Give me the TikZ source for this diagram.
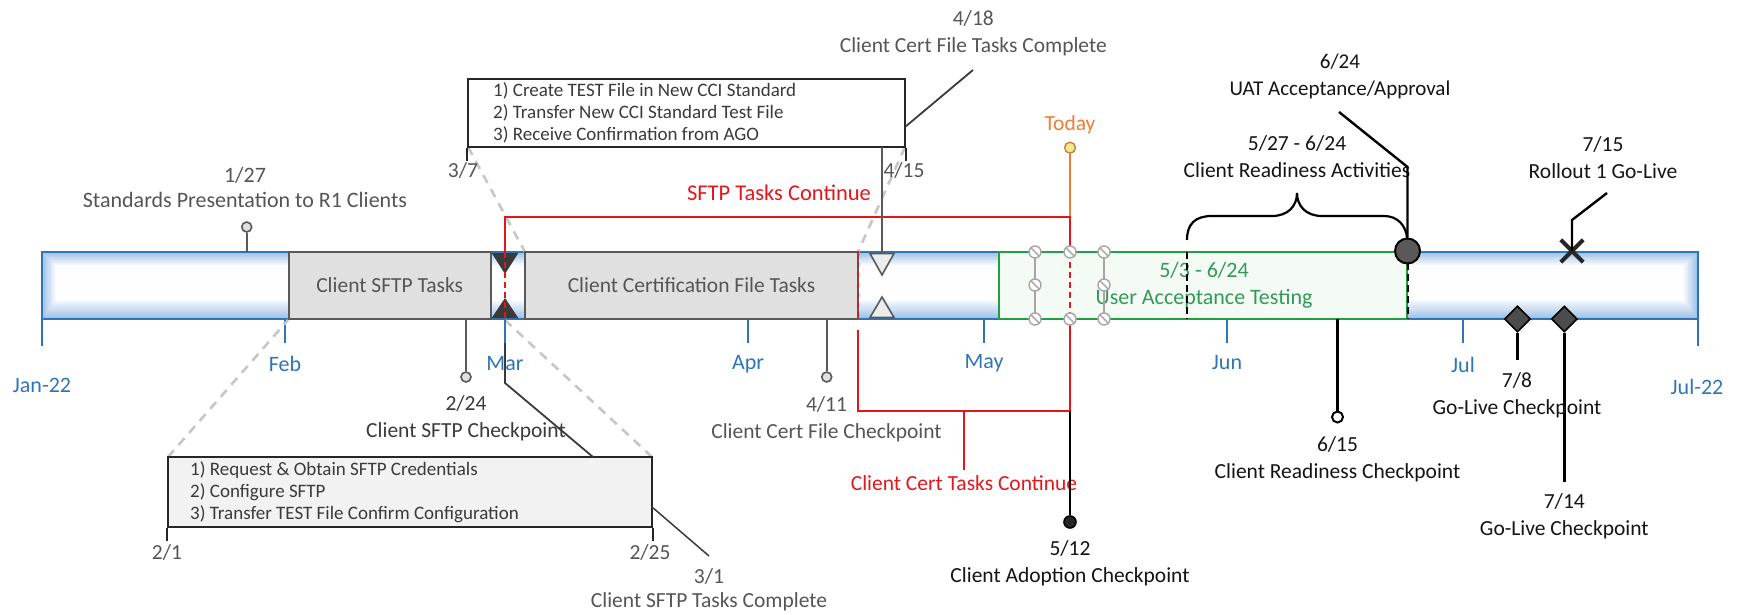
\documentclass[tikz,border=0pt]{standalone}
\usepackage{fontspec}
\setmainfont{Carlito}
\usetikzlibrary{calc,shapes.geometric}

\definecolor{axisblue}{HTML}{2E75B6}
\definecolor{barshade}{HTML}{9CBFE6}
\definecolor{taskfill}{HTML}{E0E0E0}
\definecolor{taskedge}{HTML}{595959}
\definecolor{softtext}{HTML}{555555}
\definecolor{midtext}{HTML}{3A3A3A}
\definecolor{inktext}{HTML}{141414}
\definecolor{uatedge}{HTML}{1FA045}
\definecolor{uatfill}{HTML}{F4FBF4}
\definecolor{uattext}{HTML}{33995A}
\definecolor{contred}{HTML}{E3161B}
\definecolor{todayorange}{HTML}{ED7D31}
\definecolor{todayfill}{HTML}{F2E98A}
\definecolor{zoomgrey}{HTML}{C6C6C6}
\definecolor{handlegrey}{HTML}{A6A6A6}

\begin{document}
\begin{tikzpicture}[x=1pt,y=-1pt,
  lbl/.style={font=\fontsize{21.5}{27}\selectfont, align=center, inner sep=0pt},
  month/.style={lbl, font=\fontsize{22}{26}\selectfont, text=axisblue},
  tickline/.style={draw=axisblue, line width=2.4pt},
  taskbox/.style={draw=taskedge, fill=taskfill, line width=2.2pt, inner sep=0pt,
    minimum height=67pt, font=\fontsize{21.5}{25}\selectfont, text=softtext},
  listbox/.style={draw=black!85, line width=2.2pt, inner sep=0pt},
  listtext/.style={font=\fontsize{19}{21.7}\selectfont, text=midtext, align=left, inner sep=0pt},
  stem/.style={draw=taskedge, line width=2pt},
  inkstem/.style={draw=black, line width=2.4pt},
  pin/.style={circle, draw=taskedge, fill=taskfill, line width=1.6pt, minimum size=10pt, inner sep=0pt},
  zoomline/.style={draw=zoomgrey, line width=2.6pt, dash pattern=on 9pt off 7pt},
  contline/.style={draw=contred, line width=2pt},
  contdash/.style={draw=contred, line width=2pt, dash pattern=on 6pt off 4pt},
  leader/.style={draw=midtext, line width=1.8pt},
  handle/.style={circle, draw=handlegrey, fill=white, line width=1.4pt, minimum size=12pt, inner sep=0pt,
    path picture={\draw[handlegrey, line width=1.4pt]
      (path picture bounding box.north west) -- (path picture bounding box.south east);}},
  gonode/.style={diamond, draw=black, fill=black!70, line width=1.6pt, minimum width=26pt,
    minimum height=26pt, inner sep=0pt},
]
\useasboundingbox (0,0) rectangle (1745,615);

% ---------- timeline bar with soft inner shading ----------
\coordinate (barNW) at (41.7,252);
\coordinate (barSE) at (1698,319);
\foreach \i in {0,...,18} {
  \pgfmathtruncatemacro\mix{100-5.5*\i}
  \fill[barshade!\mix!white] ($(barNW)+(\i*0.8,\i*0.75)$) rectangle ($(barSE)+(-\i*0.8,-\i*1.05)$);
}
\draw[axisblue, line width=2.4pt] (barNW) rectangle (barSE);

% ---------- month ticks and labels ----------
\coordinate (tJan) at (41.7,319);  \coordinate (tJanE) at (41.7,346);
\coordinate (tFeb) at (285,319);   \coordinate (tFebE) at (285,343);
\coordinate (tMar) at (505,319);   \coordinate (tMarE) at (505,343);
\coordinate (tApr) at (748,319);   \coordinate (tAprE) at (748,343);
\coordinate (tMay) at (984,319);   \coordinate (tMayE) at (984,343);
\coordinate (tJun) at (1226.7,319);\coordinate (tJunE) at (1226.7,343);
\coordinate (tJul) at (1462.7,319);\coordinate (tJulE) at (1462.7,343);
\coordinate (tEnd) at (1698,319);  \coordinate (tEndE) at (1698,346);
\foreach \a in {Jan,Feb,Apr,May,Jun,Jul,End} \draw[tickline] (t\a) -- (t\a E);

\node[month] (mJan) at (42,385) {Jan-22};
\node[month] (mFeb) at (285,364) {Feb};
\node[month] (mMar) at (505,364) {Mar};
\node[month] (mApr) at (748,364) {Apr};
\node[month] (mMay) at (984,363) {May};
\node[month] (mJun) at (1227,363) {Jun};
\node[month] (mJul) at (1463,365) {Jul};
\node[month] (mEnd) at (1697,387) {Jul-22};

% ---------- dashed zoom guides ----------
\coordinate (zA) at (468,147);  \coordinate (zAe) at (525,252);
\coordinate (zB) at (905,147);  \coordinate (zBe) at (858,252);
\coordinate (zC) at (168,457);  \coordinate (zCe) at (288,320);
\coordinate (zD) at (652,457);  \coordinate (zDe) at (505,320);
\draw[zoomline] (zA) -- (zAe);
\draw[zoomline] (zB) -- (zBe);
\draw[zoomline] (zC) -- (zCe);
\draw[zoomline] (zD) -- (zDe);

% ---------- task blocks on the bar ----------
\node[taskbox, minimum width=202pt] (sftp) at (389.7,285.5) {Client SFTP Tasks};
\node[taskbox, minimum width=333pt] (cert) at (691.5,285.5) {Client Certification File Tasks};

% handover markers between the blocks
\fill[midtext] (491.7,253) -- (518.3,253) -- (505,274) -- cycle;
\fill[midtext] (491.7,318) -- (518.3,318) -- (505,298) -- cycle;
\draw[taskedge, fill=taskfill!60!white, line width=1.6pt] (870,253.5) -- (894,253.5) -- (882,275) -- cycle;
\draw[taskedge, fill=taskfill!60!white, line width=1.6pt] (870,317.5) -- (894,317.5) -- (882,297) -- cycle;

% ---------- user acceptance testing window ----------
\node[draw=uatedge, fill=uatfill, line width=2.2pt, minimum width=408pt, minimum height=67pt, inner sep=0pt]
  (uat) at (1203,285.5) {};
\node[lbl, font=\fontsize{22}{27}\selectfont, text=uattext] (uattxt) at (1204,285) {5/3 - 6/24\\User Acceptance Testing};
\coordinate (crTop) at (1187,252); \coordinate (crBot) at (1187,319);
\draw[black, line width=2pt, dash pattern=on 7pt off 4pt] (crTop) -- (crBot);
\coordinate (uatTop) at (1407.5,252); \coordinate (uatBot) at (1407.5,319);
\draw[black, line width=2pt, dash pattern=on 7pt off 4pt] (uatTop) -- (uatBot);

% selection handles
\coordinate (hA1) at (1035,252); \coordinate (hA3) at (1035,319);
\coordinate (hC1) at (1104,252); \coordinate (hC3) at (1104,319);
\draw[handlegrey, line width=1.4pt] (hA1) -- (hA3);
\draw[handlegrey, line width=1.4pt] (hC1) -- (hC3);

% ---------- "continue" brackets and today line ----------
\coordinate (sfL) at (505,217); \coordinate (sfR) at (1070,217);
\coordinate (sfLb) at (505,252); \coordinate (sfRb) at (1070,252);
\coordinate (tdBot) at (1070,319);
\coordinate (ccL) at (858,330); \coordinate (ccLb) at (858,411);
\coordinate (ccR) at (1070,411); \coordinate (ccM) at (964,411); \coordinate (ccMe) at (964,470);
\coordinate (ccTop) at (858,252); \coordinate (ccBot) at (858,319);

\node[circle, draw=todayorange!60!gray, fill=todayfill, minimum size=11pt, line width=1.4pt, inner sep=0pt]
  (todaypin) at (1070,147.7) {};
\node[lbl, text=todayorange] (todaylbl) at (1070,125) {Today};
\draw[todayorange, line width=2pt] (todaypin) -- (sfR);

\draw[contline] (sfLb) -- (sfL) -- (sfR) -- (sfRb);
\draw[contdash] (sfLb) -- (tMar);
\draw[contdash] (sfRb) -- (tdBot);
\draw[contdash] (ccTop) -- (ccBot);
\draw[contline] (tdBot) -- (ccR);
\draw[contline] (ccL) -- (ccLb) -- (ccR);
\draw[contline] (ccM) -- (ccMe);
\node[lbl, text=contred, font=\fontsize{22.5}{27}\selectfont] (sftpcont) at (779,193) {SFTP Tasks Continue};
\node[lbl, text=contred, font=\fontsize{21.5}{26}\selectfont] (certcont) at (964,483) {Client Cert Tasks Continue};

\foreach \h in {(1035,252),(1035,285),(1035,319),(1070,252),(1070,319),(1104,252),(1104,285),(1104,319)}
  \node[handle] at \h {};

% ---------- detail box for certification tasks ----------
\node[listbox, fill=white, minimum width=437pt, minimum height=68pt] (certlist) at (686.5,113) {};
\node[listtext, anchor=west] (certitems) at (493,113)
  {1) Create TEST File in New CCI Standard\\2) Transfer New CCI Standard Test File\\3) Receive Confirmation from AGO};
\draw[black!85, line width=2pt] (certlist.south west) -- ++(0,13);
\draw[black!85, line width=2pt] (certlist.south east) -- ++(0,13);
\node[lbl, text=softtext] (d37) at (463,170) {3/7};
\node[lbl, text=softtext] (d415) at (904,170) {4/15};
\coordinate (certDrop) at (881.7,147);
\coordinate (certDropE) at (881.7,253);
\draw[stem] (certDrop) -- (certDropE);

% ---------- detail box for SFTP tasks ----------
\node[listbox, fill=black!5, line width=2.6pt, minimum width=484pt, minimum height=70pt] (sftplist) at (410,492) {};
\node[listtext, anchor=west] (sftpitems) at (190,492.3)
  {1) Request \& Obtain SFTP Credentials\\2) Configure SFTP\\3) Transfer TEST File Confirm Configuration};
\draw[black!85, line width=2pt] (sftplist.south west) -- ++(0,13);
\draw[black!85, line width=2pt] (sftplist.south east) -- ++(0,13);
\node[lbl, text=softtext] (d21) at (167,552) {2/1};
\node[lbl, text=softtext] (d225) at (650,552) {2/25};

% ---------- milestone pins ----------
\node[pin] (p127) at (246.7,227) {};
\coordinate (p127b) at (246.7,252);
\draw[stem] (p127) -- (p127b);
\node[lbl, text=softtext, font=\fontsize{22}{25}\selectfont] (l127) at (245,187.5) {1/27\\Standards Presentation to R1 Clients};

\node[pin] (p224) at (466,377) {};
\coordinate (p224t) at (466,319);
\draw[stem] (p224t) -- (p224);
\node[lbl, text=midtext] (l224) at (466,418.5) {2/24\\Client SFTP Checkpoint};

\node[pin] (p411) at (826.7,377) {};
\coordinate (p411t) at (826.7,319);
\draw[stem] (p411t) -- (p411);
\node[lbl, text=softtext] (l411) at (826.5,419) {4/11\\Client Cert File Checkpoint};

\node[circle, draw=black, fill=black!85, line width=1.6pt, minimum size=12pt, inner sep=0pt] (p512) at (1070,522) {};
\draw[inkstem] (ccR) -- (p512);
\node[lbl, text=inktext] (l512) at (1070,563.5) {5/12\\Client Adoption Checkpoint};

\node[circle, draw=black, fill=white, line width=2pt, minimum size=11pt, inner sep=0pt] (p615) at (1337.5,417) {};
\coordinate (p615t) at (1337.5,319);
\draw[inkstem] (p615t) -- (p615);
\node[lbl, text=inktext] (l615) at (1337.5,459) {6/15\\Client Readiness Checkpoint};

% Mar leader down to the SFTP detail box
\coordinate (marBend) at (505,383);
\coordinate (marEnd) at (593,457);
\draw[leader] (tMar) -- (marBend) -- (marEnd);
\draw[tickline] (tMar) -- (tMarE);

% SFTP complete leader
\coordinate (s31a) at (652,507);
\coordinate (s31b) at (709,556);
\draw[leader, line width=1.5pt] (s31a) -- (s31b);
\node[lbl, text=softtext, font=\fontsize{21.5}{24}\selectfont] (l31) at (709,590) {3/1\\Client SFTP Tasks Complete};

% cert complete leader
\coordinate (c418a) at (905,127);
\coordinate (c418b) at (973,70);
\draw[leader] (c418a) -- (c418b);
\node[lbl, text=softtext] (l418) at (973.3,33.4) {4/18\\Client Cert File Tasks Complete};

% ---------- readiness brace and UAT approval ----------
\draw[black, line width=2.2pt]
  (1187,240) .. controls (1187,224) and (1195,216) .. (1212,216) -- (1272,216)
  .. controls (1288,216) and (1297,206) .. (1297,193)
  .. controls (1297,206) and (1306,216) .. (1322,216) -- (1384,216)
  .. controls (1398,216) and (1406,226) .. (1407,238);
\node[lbl, text=inktext] (l527) at (1297,156.7) {5/27 - 6/24\\Client Readiness Activities};

\node[circle, draw=black, fill=black!65, line width=2pt, minimum size=25pt, inner sep=0pt] (p624) at (1407.5,251) {};
\coordinate (u624a) at (1339,112);
\coordinate (u624b) at (1407.5,167);
\draw[inkstem] (u624a) -- (u624b) -- (p624.north);
\node[lbl, text=inktext, font=\fontsize{21}{27}\selectfont] (l624) at (1340,76.4) {6/24\\UAT Acceptance/Approval};

% ---------- go-live ----------
\node[gonode] (g78) at (1517.5,319) {};
\node[gonode] (g714) at (1564.3,319) {};
\coordinate (g78e) at (1517.5,360);
\coordinate (g714e) at (1564.3,482);
\draw[inkstem] (g78.south) -- (g78e);
\draw[inkstem] (g714.south) -- (g714e);
\node[lbl, text=inktext] (l78) at (1517,395) {7/8\\Go-Live Checkpoint};
\node[lbl, text=inktext] (l714) at (1564.3,516.4) {7/14\\Go-Live Checkpoint};

\node[inner sep=0pt, minimum size=22pt] (x715) at (1572,251) {};
\draw[black!85, line width=4pt] (x715.north west) -- (x715.south east);
\draw[black!85, line width=4pt] (x715.north east) -- (x715.south west);
\coordinate (x715a) at (1572,220);
\coordinate (x715b) at (1607,193);
\draw[inkstem] (x715.center) -- (x715a) -- (x715b);
\node[lbl, text=inktext] (l715) at (1603,158) {7/15\\Rollout 1 Go-Live};

\end{tikzpicture}
\end{document}
